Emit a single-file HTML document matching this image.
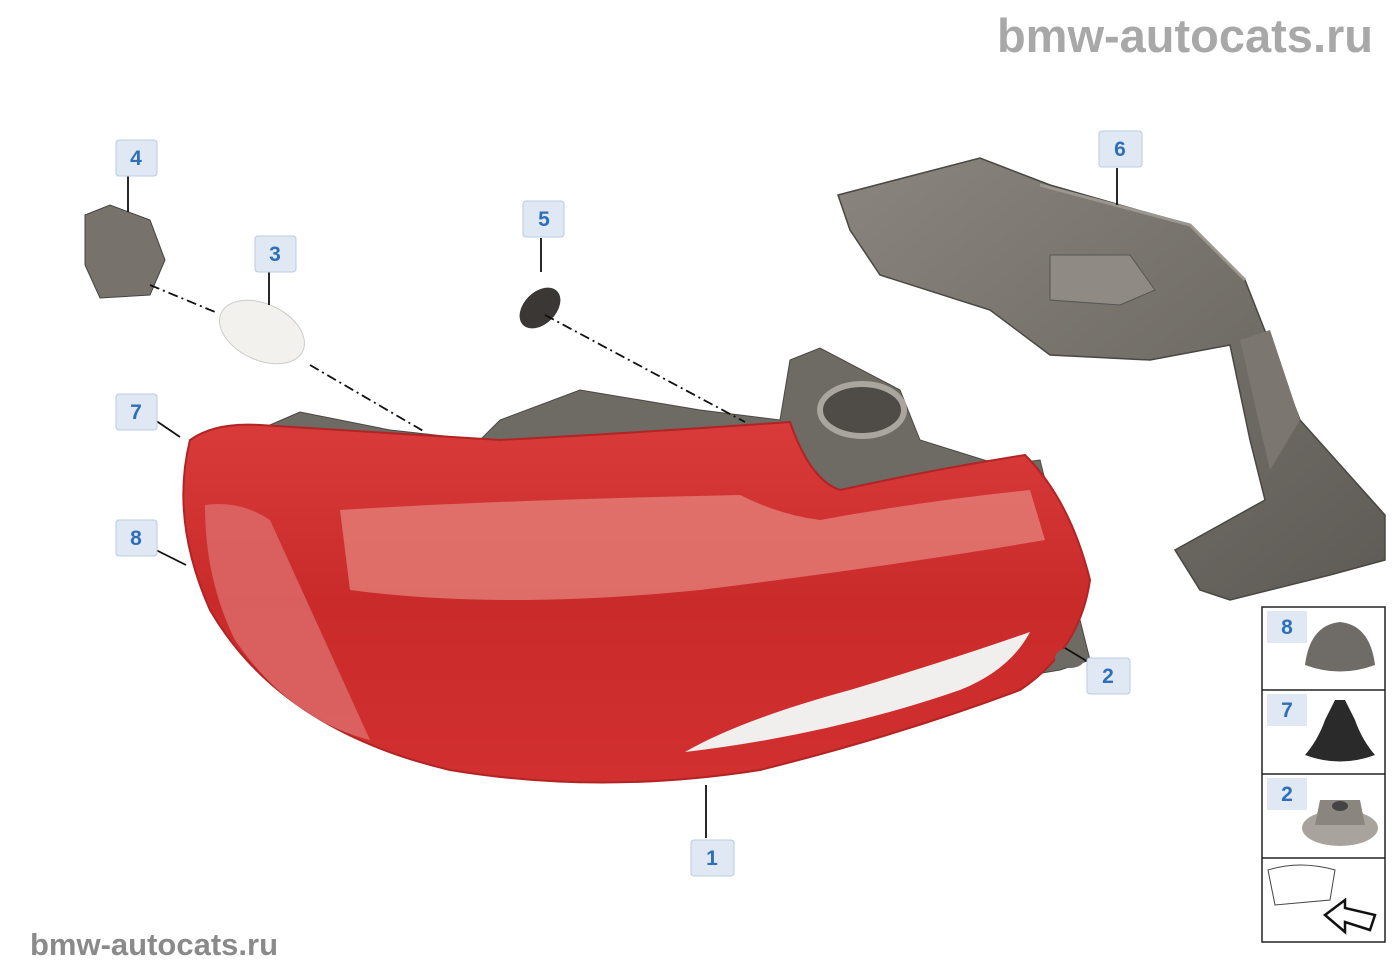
<!DOCTYPE html>
<html><head><meta charset="utf-8"><style>
body{margin:0;background:#fff;}
svg{display:block;font-family:"Liberation Sans",sans-serif;}
</style></head><body>
<svg width="1400" height="980" viewBox="0 0 1400 980">
<defs>
<linearGradient id="red" x1="0" y1="0" x2="0" y2="1">
<stop offset="0" stop-color="#d93b3b"/><stop offset="0.5" stop-color="#c92a2a"/><stop offset="1" stop-color="#d23030"/></linearGradient>
<linearGradient id="grey" x1="0" y1="0" x2="1" y2="1">
<stop offset="0" stop-color="#8a857e"/><stop offset="1" stop-color="#5e5a55"/></linearGradient>
</defs>
<text x="1373" y="52" text-anchor="end" font-size="47" font-weight="bold" fill="#a8a8a8">bmw-autocats.ru</text>
<text x="30" y="955" font-size="31" font-weight="bold" fill="#8a8a8a">bmw-autocats.ru</text>

<!-- part 6 -->
<path d="M838 195 L980 158 L1050 185 L1190 225 L1245 280 L1300 420 L1385 515 L1385 560 L1330 575 L1230 600 L1200 590 L1175 550 L1220 525 L1265 500 L1250 440 L1230 345 L1150 360 L1050 355 L990 310 L880 275 L850 230 Z" fill="url(#grey)" stroke="#4a4743" stroke-width="1.5"/>
<path d="M1050 255 L1130 255 L1155 290 L1120 305 L1050 300 Z" fill="#8f8a83" stroke="#555" />
<path d="M1240 340 L1270 330 L1300 420 L1270 470 Z" fill="#7b766f"/>
<path d="M1040 185 L1190 225 L1245 280" fill="none" stroke="#9b968f" stroke-width="3"/>

<!-- housing grey behind -->
<path d="M270 425 L300 412 L390 430 L480 440 L500 420 L580 390 L700 410 L780 420 L790 360 L820 348 L900 390 L920 440 L1000 465 L1040 460 L1080 620 L1090 660 L1060 670 L1000 680 Z" fill="#6e6a64" stroke="#4a4743"/>
<ellipse cx="862" cy="410" rx="42" ry="26" fill="#4f4c48" stroke="#aaa59e" stroke-width="6"/>

<!-- red lens -->
<path d="M190 440 Q215 422 260 425 L500 440 Q650 432 790 422 Q810 480 840 490 Q930 470 1025 455 Q1070 500 1090 580 Q1080 650 1020 690 Q900 735 760 770 Q600 795 450 770 Q280 730 210 610 Q170 520 190 440 Z" fill="url(#red)" stroke="#b22424" stroke-width="2"/>
<path d="M340 510 Q500 500 740 495 Q780 515 820 520 Q930 500 1030 490 L1045 540 Q900 565 700 590 Q500 610 350 590 Z" fill="#e6847c" opacity="0.75"/>
<path d="M205 505 Q240 500 270 520 L370 740 Q290 720 235 640 Q205 580 205 505 Z" fill="#dd6d6d" opacity="0.8"/>
<path d="M685 752 Q740 720 850 690 Q950 660 1030 632 Q1010 670 960 690 Q830 735 685 752 Z" fill="#f1eeee"/>

<!-- small parts -->
<path d="M85 215 L110 205 L150 220 L165 260 L150 295 L100 298 L85 265 Z" fill="#77726b" stroke="#444"/>
<ellipse cx="262" cy="332" rx="45" ry="28" transform="rotate(25 262 332)" fill="#f2f1ee" stroke="#ccc"/>
<ellipse cx="540" cy="308" rx="24" ry="16" transform="rotate(-45 540 308)" fill="#3a3735"/>
<ellipse cx="1070" cy="658" rx="15" ry="10" fill="#6e6a64"/>

<!-- connectors -->
<g stroke="#111" stroke-width="1.8" fill="none">
<line x1="128" y1="176" x2="128" y2="212"/>
<line x1="269" y1="272" x2="269" y2="305"/>
<line x1="541" y1="238" x2="541" y2="272"/>
<line x1="1117" y1="168" x2="1117" y2="205"/>
<line x1="152" y1="418" x2="180" y2="437"/>
<line x1="152" y1="548" x2="186" y2="565"/>
<line x1="706" y1="785" x2="706" y2="838"/>
<line x1="1065" y1="648" x2="1095" y2="666"/>
<path d="M150 285 L215 312" stroke-dasharray="10 4 2 4"/>
<path d="M310 365 L425 432" stroke-dasharray="10 4 2 4"/>
<path d="M545 315 L745 422" stroke-dasharray="10 4 2 4"/>
</g>

<!-- labels -->
<g font-size="21" font-weight="bold" fill="#2f6fb8" text-anchor="middle">
<rect x="116" y="140" width="41" height="36" rx="3" fill="#dfe8f3" stroke="#b8cbe0"/><text x="136" y="165">4</text>
<rect x="255" y="236" width="41" height="36" rx="3" fill="#dfe8f3" stroke="#b8cbe0"/><text x="275" y="261">3</text>
<rect x="523" y="201" width="41" height="36" rx="3" fill="#dfe8f3" stroke="#b8cbe0"/><text x="544" y="226">5</text>
<rect x="1099" y="131" width="43" height="36" rx="3" fill="#dfe8f3" stroke="#b8cbe0"/><text x="1120" y="156">6</text>
<rect x="116" y="394" width="41" height="36" rx="3" fill="#dfe8f3" stroke="#b8cbe0"/><text x="136" y="419">7</text>
<rect x="116" y="520" width="41" height="36" rx="3" fill="#dfe8f3" stroke="#b8cbe0"/><text x="136" y="545">8</text>
<rect x="1087" y="658" width="43" height="36" rx="3" fill="#dfe8f3" stroke="#b8cbe0"/><text x="1108" y="683">2</text>
<rect x="691" y="840" width="43" height="36" rx="3" fill="#dfe8f3" stroke="#b8cbe0"/><text x="712" y="865">1</text>
</g>

<!-- right panel -->
<g stroke="#222" stroke-width="1.5" fill="#fff">
<rect x="1262" y="607" width="123" height="335"/>
<line x1="1262" y1="690" x2="1385" y2="690"/>
<line x1="1262" y1="774" x2="1385" y2="774"/>
<line x1="1262" y1="858" x2="1385" y2="858"/>
</g>
<g font-size="21" font-weight="bold" fill="#2f6fb8" text-anchor="middle">
<rect x="1267" y="611" width="40" height="32" fill="#dfe8f3"/><text x="1287" y="634">8</text>
<rect x="1267" y="694" width="40" height="32" fill="#dfe8f3"/><text x="1287" y="717">7</text>
<rect x="1267" y="778" width="40" height="32" fill="#dfe8f3"/><text x="1287" y="801">2</text>
</g>
<path d="M1305 665 Q1310 625 1340 622 Q1370 625 1375 665 Q1340 678 1305 665 Z" fill="#6f6b66"/>
<path d="M1305 755 Q1318 740 1325 720 L1335 700 L1345 700 L1355 720 Q1362 740 1375 755 Q1340 768 1305 755 Z" fill="#2a2a2a"/>
<ellipse cx="1340" cy="828" rx="38" ry="18" fill="#a8a39c"/>
<path d="M1320 800 L1360 800 L1365 825 L1315 825 Z" fill="#8a857e"/>
<ellipse cx="1340" cy="806" rx="8" ry="5" fill="#444"/>
<path d="M1268 870 Q1300 860 1335 870 L1330 900 L1275 905 Z" fill="none" stroke="#444"/>
<path d="M1325 915 L1345 900 L1345 908 L1375 915 L1370 930 L1345 922 L1345 932 Z" fill="#fff" stroke="#111" stroke-width="2.5"/>
</svg>
</body></html>
